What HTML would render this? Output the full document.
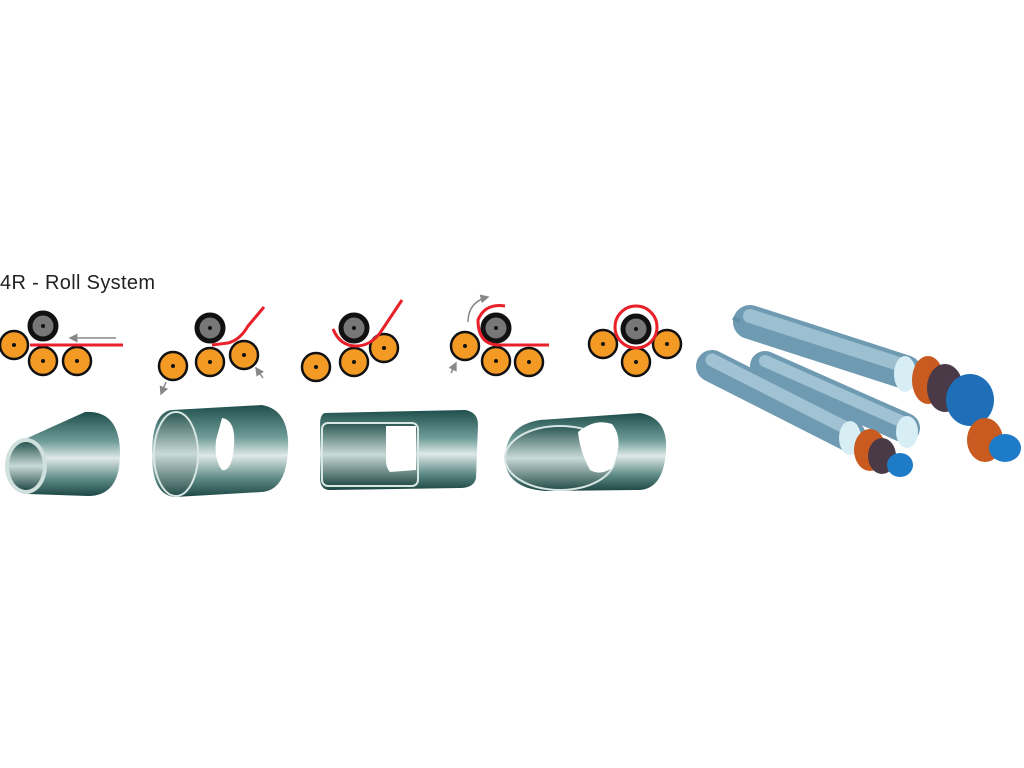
<!DOCTYPE html>
<html><head><meta charset="utf-8"><style>html,body{margin:0;padding:0;background:#fff}svg{display:block}</style></head>
<body>
<svg width="1024" height="768" viewBox="0 0 1024 768" xmlns="http://www.w3.org/2000/svg">
<defs>
<linearGradient id="steel" x1="0" y1="0" x2="0" y2="1">
<stop offset="0" stop-color="#1f4f4c"/><stop offset="0.35" stop-color="#6f9c98"/><stop offset="0.55" stop-color="#dfe9e7"/><stop offset="0.8" stop-color="#5d8a86"/><stop offset="1" stop-color="#1d4744"/>
</linearGradient>
<linearGradient id="steelIn" x1="0" y1="0" x2="0" y2="1">
<stop offset="0" stop-color="#2a5652"/><stop offset="0.5" stop-color="#c9dad7"/><stop offset="1" stop-color="#244c49"/>
</linearGradient>
<marker id="ah" markerWidth="6" markerHeight="6" refX="5" refY="3" orient="auto"><path d="M0,0 L6,3 L0,6 Z" fill="#888"/></marker>
</defs>
<text x="0" y="289" font-family="Liberation Sans, sans-serif" font-size="20" fill="#222" textLength="155">4R - Roll System</text>

<g stroke="#111" stroke-width="2.5">
<circle cx="43" cy="326" r="13" fill="#777" stroke-width="5"/>
<circle cx="14" cy="345" r="14" fill="#f39a25"/><circle cx="43" cy="361" r="14" fill="#f39a25"/><circle cx="77" cy="361" r="14" fill="#f39a25"/>
<circle cx="210" cy="328" r="13" fill="#777" stroke-width="5"/>
<circle cx="173" cy="366" r="14" fill="#f39a25"/><circle cx="210" cy="362" r="14" fill="#f39a25"/><circle cx="244" cy="355" r="14" fill="#f39a25"/>
<circle cx="354" cy="328" r="13" fill="#777" stroke-width="5"/>
<circle cx="316" cy="367" r="14" fill="#f39a25"/><circle cx="354" cy="362" r="14" fill="#f39a25"/><circle cx="384" cy="348" r="14" fill="#f39a25"/>
<circle cx="496" cy="328" r="13" fill="#777" stroke-width="5"/>
<circle cx="465" cy="346" r="14" fill="#f39a25"/><circle cx="496" cy="361" r="14" fill="#f39a25"/><circle cx="529" cy="362" r="14" fill="#f39a25"/>
<circle cx="636" cy="329" r="13" fill="#777" stroke-width="5"/>
<circle cx="603" cy="344" r="14" fill="#f39a25"/><circle cx="636" cy="362" r="14" fill="#f39a25"/><circle cx="667" cy="344" r="14" fill="#f39a25"/>
</g>
<g fill="#111">
<circle cx="43" cy="326" r="2"/><circle cx="14" cy="345" r="2"/><circle cx="43" cy="361" r="2"/><circle cx="77" cy="361" r="2"/>
<circle cx="210" cy="328" r="2"/><circle cx="173" cy="366" r="2"/><circle cx="210" cy="362" r="2"/><circle cx="244" cy="355" r="2"/>
<circle cx="354" cy="328" r="2"/><circle cx="316" cy="367" r="2"/><circle cx="354" cy="362" r="2"/><circle cx="384" cy="348" r="2"/>
<circle cx="496" cy="328" r="2"/><circle cx="465" cy="346" r="2"/><circle cx="496" cy="361" r="2"/><circle cx="529" cy="362" r="2"/>
<circle cx="636" cy="329" r="2"/><circle cx="603" cy="344" r="2"/><circle cx="636" cy="362" r="2"/><circle cx="667" cy="344" r="2"/>
</g>
<g fill="none" stroke="#e8202a" stroke-width="3">
<line x1="30" y1="345" x2="123" y2="345"/>
<path d="M212,345 L228,343 Q240,340 248,326 L264,307"/>
<path d="M333,329 Q340,346 356,346 Q370,346 380,333 L402,300"/>
<path d="M505,306 Q485,303 478,320 Q478,344 498,345 L549,345"/>
<circle cx="636" cy="327" r="21"/>
</g>
<g stroke="#888" stroke-width="1.5" fill="none" marker-end="url(#ah)">
<line x1="116" y1="338" x2="70" y2="338"/>
<line x1="166" y1="382" x2="161" y2="394"/>
<line x1="263" y1="378" x2="256" y2="368"/>
<path d="M468,322 Q468,302 488,297"/>
<line x1="451" y1="373" x2="456" y2="363"/>
</g>

<path d="M12,445 L85,412 Q120,410 120,454 Q120,496 88,496 L28,494 Z" fill="url(#steel)"/>
<ellipse cx="26" cy="466" rx="21" ry="28" fill="#cfe0dd"/>
<ellipse cx="26" cy="466" rx="17" ry="24" fill="url(#steelIn)"/>

<path d="M172,410 L262,405 Q290,410 288,450 Q286,490 262,492 L175,497 Q152,495 152,455 Q152,412 172,410 Z" fill="url(#steel)"/>
<ellipse cx="176" cy="454" rx="22" ry="42" fill="url(#steelIn)" stroke="#d8e6e4" stroke-width="2"/>
<path d="M222,418 Q236,420 234,446 Q232,472 222,470 Q214,460 216,440 Z" fill="#fff"/>

<path d="M325,413 L465,410 Q478,412 478,425 L476,478 Q474,488 460,488 L330,490 Q320,490 320,478 L320,425 Q320,414 325,413 Z" fill="url(#steel)"/>
<rect x="322" y="423" width="96" height="63" rx="6" fill="url(#steelIn)" stroke="#d8e6e4" stroke-width="2"/>
<path d="M386,426 L416,426 L416,470 L390,472 Q386,468 386,460 Z" fill="#fff"/>

<path d="M540,420 L640,413 Q668,418 666,450 Q664,488 640,490 L545,491 Q505,488 505,458 Q506,425 540,420 Z" fill="url(#steel)"/>
<ellipse cx="560" cy="458" rx="55" ry="32" fill="url(#steelIn)" stroke="#d8e6e4" stroke-width="2"/>
<path d="M578,432 Q595,418 612,424 Q625,440 612,468 Q600,476 590,470 Q580,452 578,432 Z" fill="#fff"/>

<g stroke-linecap="round" fill="none">
<line x1="750" y1="322" x2="905" y2="372" stroke="#6f9bb2" stroke-width="34"/>
<line x1="750" y1="316" x2="905" y2="366" stroke="#9dc0d1" stroke-width="14"/>
<line x1="765" y1="366" x2="905" y2="428" stroke="#6f9bb2" stroke-width="30"/>
<line x1="765" y1="361" x2="905" y2="423" stroke="#a0c2d2" stroke-width="12"/>
<line x1="712" y1="366" x2="850" y2="436" stroke="#6f9bb2" stroke-width="32"/>
<line x1="712" y1="360" x2="850" y2="430" stroke="#a0c2d2" stroke-width="13"/>
</g>
<line x1="733" y1="318" x2="740" y2="321" stroke="#5f8ea6" stroke-width="4"/>
<ellipse cx="905" cy="374" rx="11" ry="18" fill="#d8eef5"/>
<ellipse cx="907" cy="432" rx="11" ry="16" fill="#d8eef5"/>
<ellipse cx="850" cy="438" rx="11" ry="17" fill="#d8eef5"/>
<ellipse cx="928" cy="380" rx="16" ry="24" fill="#c95a20"/>
<ellipse cx="945" cy="388" rx="18" ry="24" fill="#4a3a48"/>
<ellipse cx="970" cy="400" rx="24" ry="26" fill="#1e6fb8"/>
<ellipse cx="985" cy="440" rx="18" ry="22" fill="#c95a20"/>
<ellipse cx="1005" cy="448" rx="16" ry="14" fill="#1e7bc8"/>
<ellipse cx="870" cy="450" rx="16" ry="21" fill="#c95a20"/>
<ellipse cx="882" cy="456" rx="14" ry="18" fill="#4a3a48"/>
<ellipse cx="900" cy="465" rx="13" ry="12" fill="#1e7bc8"/>
</svg>
</body></html>
